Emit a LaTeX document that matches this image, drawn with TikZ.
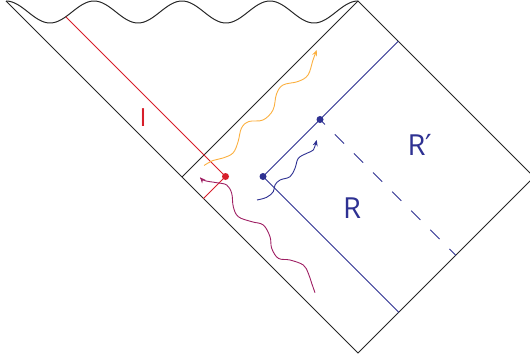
\documentclass[tikz,border=0pt]{standalone}
\usepackage{fontspec}
\setmainfont{Open Sans}
\newfontfamily\dvfont{DejaVu Sans}
\usetikzlibrary{arrows.meta}
\definecolor{cred}{RGB}{215,30,42}
\definecolor{cblue}{RGB}{46,49,146}
\definecolor{corange}{RGB}{251,176,64}
\definecolor{cmag}{RGB}{158,31,99}
\begin{document}
\begin{tikzpicture}[x=1pt,y=1pt,
  frame/.style={line width=1pt, draw=black!85, line join=miter},
  redline/.style={line width=0.9pt, draw=cred},
  blueline/.style={line width=0.9pt, draw=cblue},
  wig/.style={line width=0.9pt, -{Stealth[length=6pt,width=5pt]}},
  lab/.style={inner sep=0pt, font=\fontsize{29}{29}\selectfont}]
\useasboundingbox (0,0) rectangle (530,360);
% frame
\coordinate (TL) at (6,359);
\coordinate (T) at (358,359);
\coordinate (Rc) at (534,183);
\coordinate (B) at (358,7);
\coordinate (L) at (182,183);
\draw[frame] plot[domain=6:358, samples=240] (\x, {348+11*cos(4.090909*(\x-6))});
\draw[frame] (TL) -- (B) -- (Rc) -- (T) -- (L);
% red
\coordinate (Rw) at (65.8,343.2);
\coordinate (R0) at (225.5,183.5);
\coordinate (Rs) at (203.5,161.5);
\draw[redline] (Rw) -- (R0) -- (Rs);
% blue
\coordinate (D1) at (263,183.5);
\coordinate (BT) at (398.25,318.75);
\coordinate (BB) at (398.75,47.75);
\coordinate (D2) at (320,240.5);
\coordinate (DE) at (455.75,104.75);
\draw[blueline] (BT) -- (D1) -- (BB);
\draw[blueline, dash pattern=on 13pt off 14pt, dash phase=6pt] (D2) -- (DE);
% wiggly arrows
\draw[wig, draw=corange] plot[smooth, tension=0.6] coordinates {(204,194.5) (213,199.5) (223,202) (233,207) (238,218) (241.5,232) (249,238.5) (263,240) (273,250) (276.5,266) (283,275) (298,278.5) (308,285) (313,300) (316.7,310)};
\draw[wig, draw=cmag] plot[smooth, tension=0.6] coordinates {(315,67.3) (311.7,76.7) (308.3,86.7) (303.3,95) (290,100) (278.3,101.7) (271.7,111.7) (270,123.3) (263.3,135) (251.7,138.3) (238.3,143.3) (233.3,153.3) (231.7,166.7) (226.7,175) (216.7,177.3) (205,179.3) (200,182.7)};
\draw[wig, draw=cblue] plot[smooth, tension=0.6] coordinates {(257,160) (266.7,162.7) (273.3,168.3) (275,175) (280,180) (290,183.3) (295,191.7) (298.3,201.7) (306.7,206.7) (313.3,210) (315.7,216.7) (316.7,220)};
% dots
\fill[cred] (R0) circle (3.5);
\fill[cblue] (D1) circle (3.5);
\fill[cblue] (D2) circle (3.5);
% labels
\node[lab, text=cred, font=\fontsize{25}{25}\selectfont] (labI) at (143,242) {I};
\node[lab, text=cblue] (labRp) at (420,215) {R{\dvfont ′}};
\node[lab, text=cblue] (labR) at (352,152) {R};
\end{tikzpicture}
\end{document}
